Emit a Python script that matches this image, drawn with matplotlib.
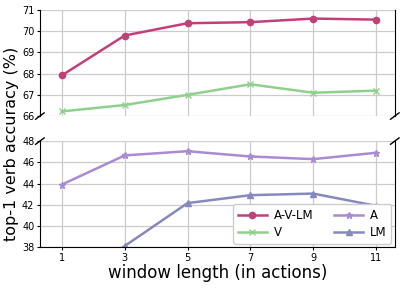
import numpy as np
import matplotlib
matplotlib.use("Agg")
from matplotlib import pyplot as plt

window = [1, 3, 5, 7, 9, 11]
avlm = [67.92, 69.8, 70.38, 70.43, 70.6, 70.55]
v = [66.22, 66.52, 67.0, 67.5, 67.1, 67.2]
a = [43.9, 46.65, 47.05, 46.55, 46.3, 46.9]
lm = [34.0, 38.1, 42.15, 42.9, 43.05, 41.9]

c_avlm = "#c2407a"
c_v = "#8fd08c"
c_a = "#a98bd4"
c_lm = "#8689c0"

fig = plt.figure(figsize=(4.07, 2.88), dpi=100)
ax1 = fig.add_axes([0.098, 0.597, 0.872, 0.368])
ax2 = fig.add_axes([0.098, 0.142, 0.872, 0.368])

for ax in (ax1, ax2):
    l1, = ax.plot(window, avlm, color=c_avlm, marker="o", ms=4.5, lw=1.8, label="A-V-LM")
    l2, = ax.plot(window, v, color=c_v, marker="x", ms=4.5, lw=1.8, label="V")
    l3, = ax.plot(window, a, color=c_a, marker="*", ms=5, lw=1.8, label="A")
    l4, = ax.plot(window, lm, color=c_lm, marker="^", ms=4.5, lw=1.8, label="LM")
    ax.grid(True, color="#cccccc", lw=0.9)
    ax.set_axisbelow(True)
    ax.set_xlim(0.3, 11.6)
    ax.set_xticks(window)
    ax.tick_params(labelsize=7, length=2, pad=2)

ax1.set_ylim(66, 71)
ax1.set_yticks([66, 67, 68, 69, 70, 71])
ax2.set_ylim(38, 48)
ax2.set_yticks([38, 40, 42, 44, 46, 48])

ax1.spines["bottom"].set_visible(False)
ax1.spines["top"].set_visible(False)
ax2.spines["top"].set_visible(False)
ax1.tick_params(axis="x", labelbottom=False, length=0)

# break marks
d = 0.012
kw = dict(color="k", clip_on=False, lw=1.0)
ax1.plot((-d, +d), (-d * 2.5, +d * 2.5), transform=ax1.transAxes, **kw)
ax1.plot((1 - d, 1 + d), (-d * 2.5, +d * 2.5), transform=ax1.transAxes, **kw)
ax2.plot((-d, +d), (1 - d * 2.5, 1 + d * 2.5), transform=ax2.transAxes, **kw)
ax2.plot((1 - d, 1 + d), (1 - d * 2.5, 1 + d * 2.5), transform=ax2.transAxes, **kw)

ax2.legend(handles=[l1, l2, l3, l4], ncol=2, loc="lower right", fontsize=8.5,
           handlelength=2.4, columnspacing=1.8, handletextpad=0.6,
           borderaxespad=0.3, labelspacing=0.35, framealpha=1)

ax2.set_xlabel("window length (in actions)", fontsize=12, labelpad=1)
fig.text(0.028, 0.5, "top-1 verb accuracy (%)", rotation=90, fontsize=11.5,
         va="center", ha="center")

fig.savefig("out.png", dpi=100)
